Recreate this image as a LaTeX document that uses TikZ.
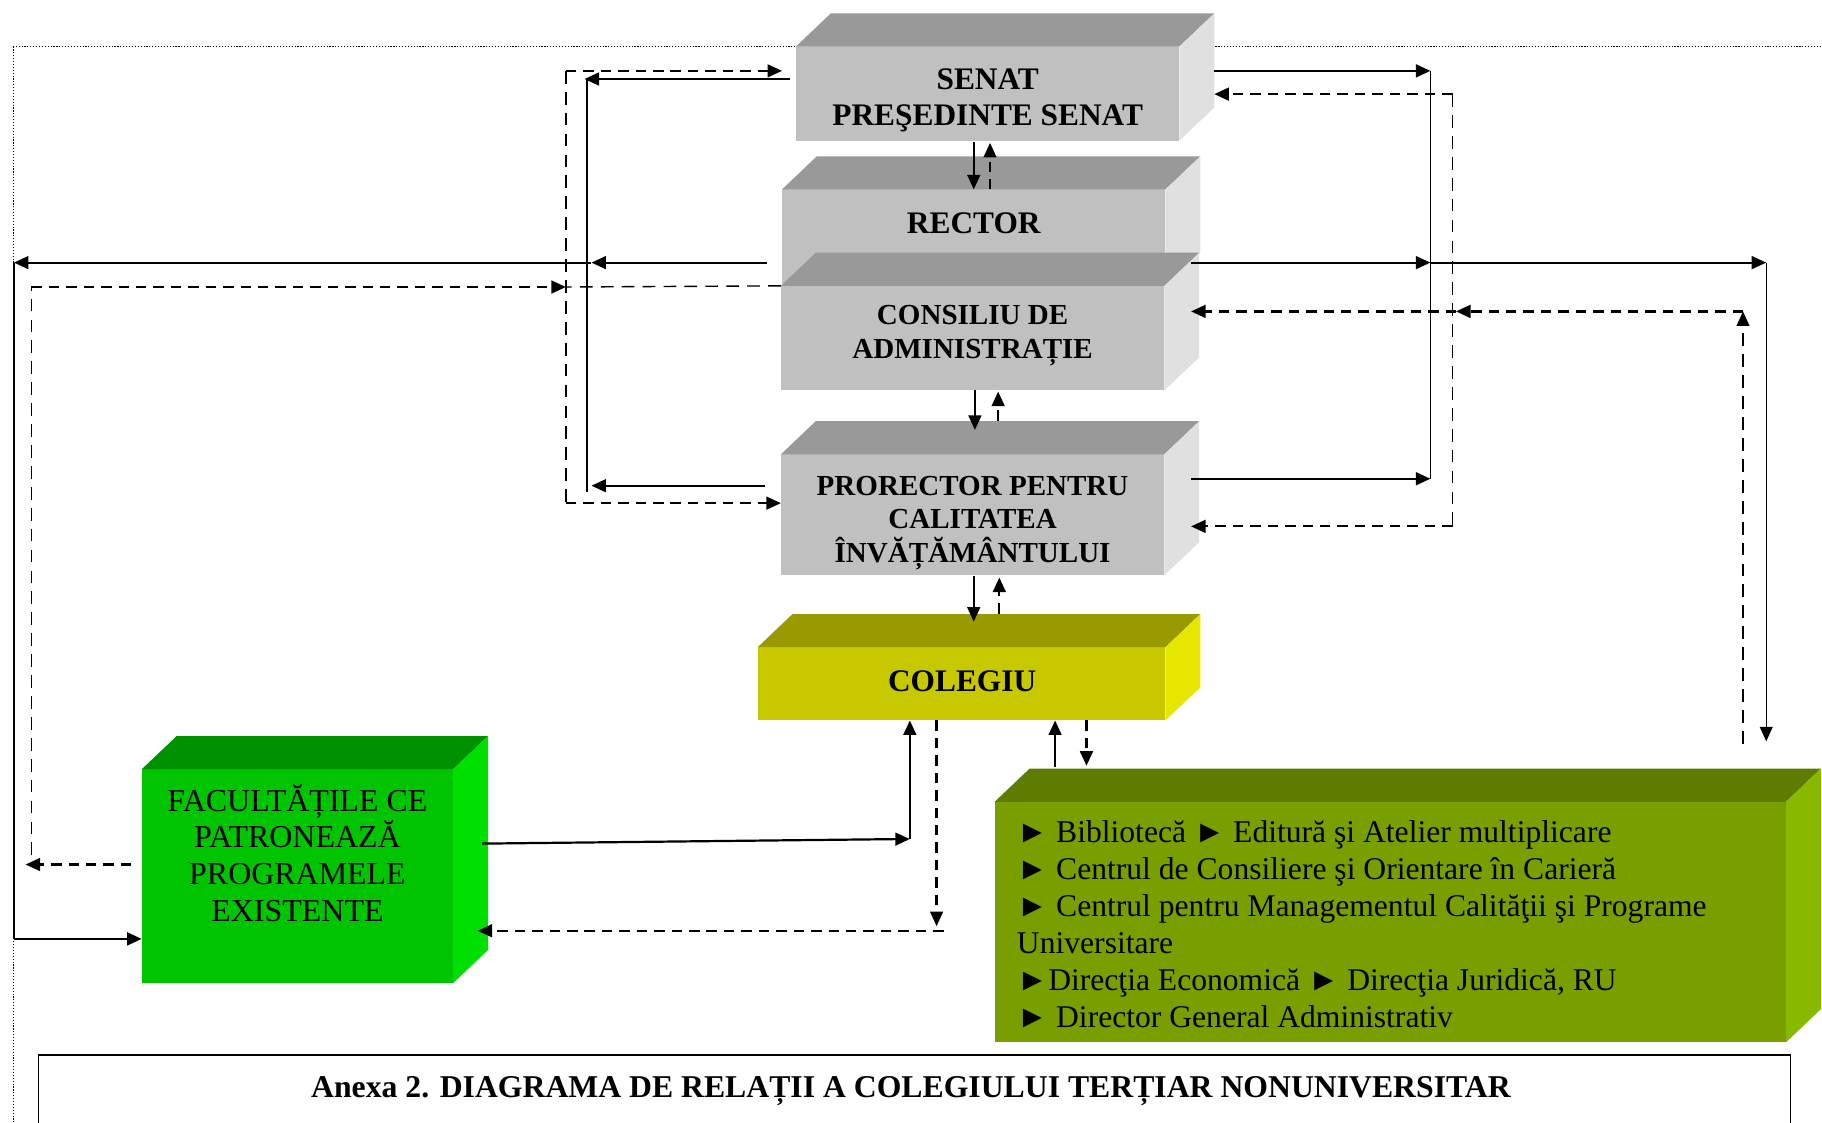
\documentclass[tikz,border=0pt]{standalone}
\usepackage{fontspec}
\setmainfont{Liberation Serif}
\usetikzlibrary{arrows.meta}
\definecolor{gtop}{HTML}{999999}
\definecolor{gfront}{HTML}{C0C0C0}
\definecolor{gside}{HTML}{E0E0E0}
\definecolor{ytop}{HTML}{999900}
\definecolor{yfront}{HTML}{C8C800}
\definecolor{yside}{HTML}{E6E600}
\definecolor{ftop}{HTML}{009100}
\definecolor{ffront}{HTML}{00C400}
\definecolor{fside}{HTML}{00E000}
\definecolor{svtop}{HTML}{5E7C00}
\definecolor{sfront}{HTML}{789E00}
\definecolor{sside}{HTML}{88B800}
\newcommand\prismbox[8]{%
  \node[fill=#7, inner sep=0pt, outer sep=0pt, minimum width=#4pt, minimum height=#5pt, anchor=north west] (#1) at (#2,#3) {};
  \fill[#6] (#1.north west) -- ++(30,-28.5) -- ++(#4,0) -- (#1.north east) -- cycle;
  \fill[#8] (#1.north east) -- ++(30,-28.5) -- ++(0,#5) -- (#1.south east) -- cycle;
}
\begin{document}
\begin{tikzpicture}[x=1pt,y=-1pt,
  >={Triangle[length=12.5pt,width=11pt]},
  sol/.style={line width=1.9pt},
  solthin/.style={line width=1.2pt},
  das/.style={line width=1.9pt, dash pattern=on 9pt off 6pt},
  dasthin/.style={line width=1.2pt, dash pattern=on 11pt off 7pt},
  btext/.style={font=\bfseries\fontsize{27}{31}\selectfont, align=center, inner sep=0pt},
  bstext/.style={font=\bfseries\fontsize{25}{29}\selectfont, align=center, inner sep=0pt},
  rtext/.style={font=\fontsize{27.5}{31.7}\selectfont, align=center, inner sep=0pt}]
\useasboundingbox (0,0) rectangle (1568,966);
\fill[white] (0,0) rectangle (1568,966);
% dotted frame
\draw[line width=0.8pt, dash pattern=on 1pt off 1.5pt] (12,966) -- (12,40) -- (1568,40);
% boxes
\prismbox{senat}{685}{40}{330}{81}{gtop}{gfront}{gside}
\prismbox{rector}{673}{163}{330}{83}{gtop}{gfront}{gside}
\prismbox{consiliu}{672}{246}{330}{90}{gtop}{gfront}{gside}
\prismbox{prorector}{672}{391}{330}{104}{gtop}{gfront}{gside}
\prismbox{colegiu}{652}{557}{351}{63}{ytop}{yfront}{yside}
\prismbox{facult}{122}{662}{268}{184}{ftop}{ffront}{fside}
\prismbox{servicii}{856}{690}{681}{207}{svtop}{sfront}{sside}
% texts
\node[btext] (tsenat) at (850,86) {SENAT\\PREŞEDINTE SENAT};
\node[btext] (trector) at (838,192) {RECTOR};
\node[bstext] (tconsiliu) at (837,289) {CONSILIU DE\\ADMINISTRAȚIE};
\node[bstext] (tprorector) at (837,450) {PRORECTOR PENTRU\\CALITATEA\\ÎNVĂȚĂMÂNTULUI};
\node[btext] (tcolegiu) at (828,586) {COLEGIU};
\node[rtext] (tfacult) at (256,734) {FACULTĂȚILE CE\\PATRONEAZĂ\\PROGRAMELE\\EXISTENTE};
\node[font=\fontsize{27.2}{31.8}\selectfont, align=left, inner sep=0pt, anchor=west] (tserv) at (875,795.5)
 {► Bibliotecă ► Editură şi Atelier multiplicare\\
  ► Centrul de Consiliere şi Orientare în Carieră\\
  ► Centrul pentru Managementul Calităţii şi Programe\\
  Universitare\\
  ►Direcţia Economică ► Direcţia Juridică, RU\\
  ► Director General Administrativ};
% caption
\draw[line width=1.4pt] (33,975) -- (33,908) -- (1541,908) -- (1541,975);
\node[btext, font=\bfseries\fontsize{27.3}{31}\selectfont] (caption) at (784,939) {Anexa 2. DIAGRAMA DE RELAȚII A COLEGIULUI TERȚIAR NONUNIVERSITAR};
% coordinates
\coordinate (a1) at (487,61);
\coordinate (a2) at (487,433);
\coordinate (a3) at (487,247);
\coordinate (b1) at (505,68);
\coordinate (b2) at (505,423);
\coordinate (c1) at (12,226);
\coordinate (c2) at (12,808);
\coordinate (d1) at (27,247);
\coordinate (d2) at (27,736);
\coordinate (r1) at (1231,61);
\coordinate (r2) at (1231,412);
\coordinate (r3) at (1231,226);
\coordinate (r4) at (1520,226);
\coordinate (r5) at (1520,638);
\coordinate (s1) at (1250,81);
\coordinate (s2) at (1250,453);
\coordinate (t1) at (1500,640);
\coordinate (t2) at (1500,268);
\coordinate (t3) at (1253,268);
\coordinate (f1) at (783,722);
\coordinate (g1) at (806,797);
\coordinate (g2) at (812,801);
% left connectors
\draw[dasthin] (a1) -- (a2);
\draw[das,->] (a1) -- (673,61);
\draw[das,->] (a2) -- (672,433);
\draw[sol,->] (680,68) -- (503,68);
\draw[sol,->] (658,418) -- (509,418);
\draw[solthin] (b1) -- (b2);
\draw[sol,->] (660,226) -- (509,226);
\draw[sol,->] (509,226) -- (c1);
\draw[solthin] (c1) -- (c2);
\draw[sol,->] (c2) -- (facult.west |- c2);
\draw[dasthin] (consiliu.north west) -- (a3);
\draw[dasthin] (d2) -- (d1);
\draw[das,->] (d1) -- (a3);
\draw[das,->] (113,744) -- (22,744);
% right connectors
\draw[sol,->] (1045,61) -- (r1);
\draw[solthin] (r1) -- (r2);
\draw[sol,->] (1025,412) -- (r2);
\draw[sol,->] (1025,226) -- (r3);
\draw[sol,->] (r3) -- (r4);
\draw[solthin,->] (r4) -- (r5);
\draw[das,->] (s1) -- (1045,81);
\draw[dasthin] (s1) -- (s2);
\draw[das,->] (s2) -- (1025,453);
\draw[dasthin,->] (t1) -- (t2);
\draw[das,->] (t2) -- (t3);
\draw[das,->] (t3) -- (1025,268);
% vertical links
\draw[sol,->] (838,122) -- (838,163);
\draw[das,->] (852,163) -- (852,123);
\draw[sol,->] (839,336) -- (839,370);
\draw[das,->] (859,362) -- (859,337);
\draw[sol,->] (838,496) -- (838,535);
\draw[das,->] (860,528) -- (860,497);
\draw[sol,->] (908,660) -- (908,620);
\draw[das,->] (935,620) -- (935,659);
% facultati <-> colegiu
\draw[sol,->] (415,726) -- (f1);
\draw[sol,->] (f1) -- (783,620);
\draw[das,->] (806,620) -- (g1);
\draw[das,->] (g2) -- (411,801);
\end{tikzpicture}
\end{document}
